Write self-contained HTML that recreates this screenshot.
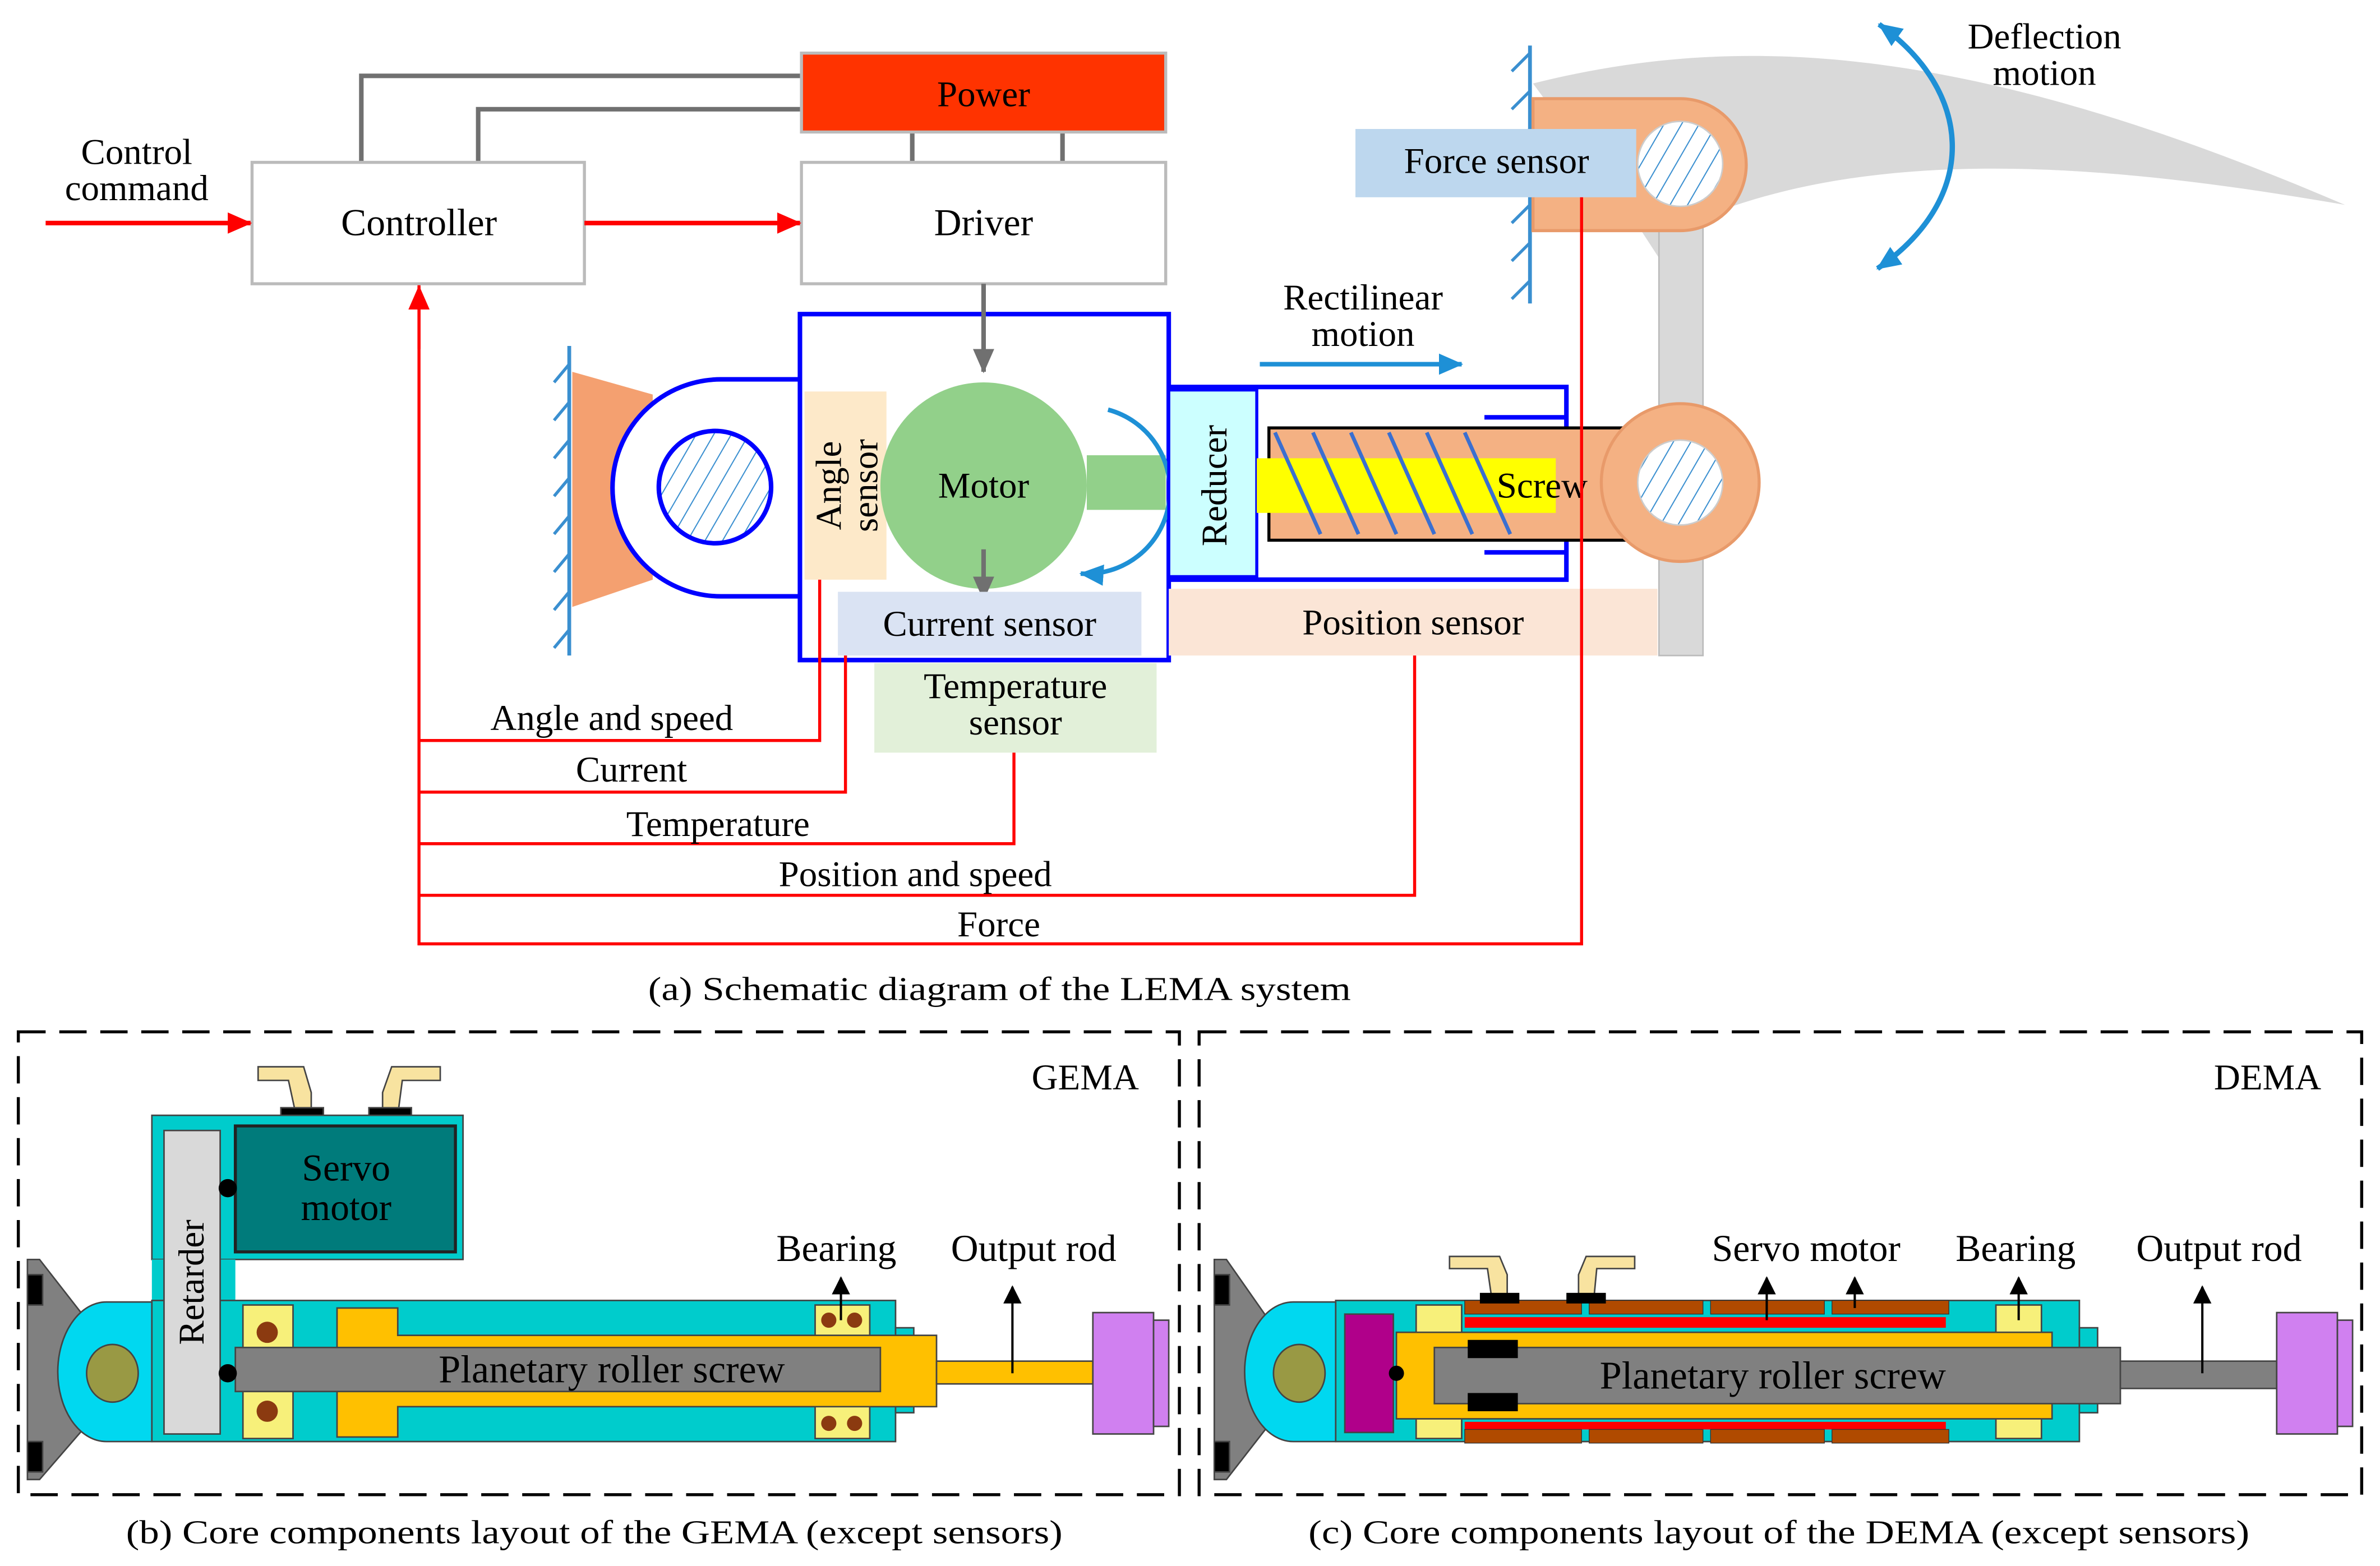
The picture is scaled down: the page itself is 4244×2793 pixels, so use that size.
<!DOCTYPE html>
<html><head><meta charset="utf-8"><style>html,body{margin:0;padding:0;background:#fff}svg{display:block}</style></head><body>
<svg width="4244" height="2793" viewBox="0 0 1568 1032" xmlns="http://www.w3.org/2000/svg" font-family="'Liberation Serif', serif">
<defs>
<marker id="arr" markerWidth="16" markerHeight="14" refX="15" refY="7" orient="auto" markerUnits="userSpaceOnUse"><path d="M0,0 L16,7 L0,14 z" fill="#ff0000"/></marker>
<marker id="ag" markerWidth="16" markerHeight="14" refX="15" refY="7" orient="auto" markerUnits="userSpaceOnUse"><path d="M0,0 L16,7 L0,14 z" fill="#707070"/></marker>
<marker id="ab" markerWidth="16" markerHeight="14" refX="15" refY="7" orient="auto" markerUnits="userSpaceOnUse"><path d="M0,0 L16,7 L0,14 z" fill="#1e90d6"/></marker>
<marker id="abs" markerWidth="16" markerHeight="14" refX="1" refY="7" orient="auto" markerUnits="userSpaceOnUse"><path d="M16,0 L0,7 L16,14 z" fill="#1e90d6"/></marker>
<marker id="ak" markerWidth="12" markerHeight="22" refX="11" refY="6" orient="auto" markerUnits="userSpaceOnUse"><path d="M0,0 L12,6 L0,12 z" fill="#000"/></marker>
<pattern id="hatch" width="10" height="10" patternUnits="userSpaceOnUse" patternTransform="rotate(30)"><line x1="0" y1="0" x2="0" y2="10" stroke="#3a8fd0" stroke-width="1.5"/></pattern>
</defs>

<path d="M1010,55 C1150,20 1300,30 1545,135 C1400,110 1250,95 1130,140 L1122,140 L1122,432 L1093,432 L1093,170 L1080,150 Z" fill="#d9d9d9"/>
<rect x="1093" y="140" width="29" height="292" fill="#d9d9d9" stroke="#bbb"/>

<polyline points="238,107 238,50 528,50" fill="none" stroke="#707070" stroke-width="3"/>
<polyline points="315,107 315,72 528,72" fill="none" stroke="#707070" stroke-width="3"/>
<line x1="601" y1="87" x2="601" y2="107" stroke="#707070" stroke-width="3"/>
<line x1="700" y1="87" x2="700" y2="107" stroke="#707070" stroke-width="3"/>

<rect x="528" y="35" width="240" height="52" fill="#ff3300" stroke="#bbb" stroke-width="2"/>
<text x="648" y="70" font-size="24" text-anchor="middle">Power</text>
<rect x="166" y="107" width="219" height="80" fill="#fff" stroke="#bbb" stroke-width="2"/>
<text x="276" y="155" font-size="25" text-anchor="middle">Controller</text>
<rect x="528" y="107" width="240" height="80" fill="#fff" stroke="#bbb" stroke-width="2"/>
<text x="648" y="155" font-size="25" text-anchor="middle">Driver</text>

<text x="90" y="108" font-size="24" text-anchor="middle">Control</text>
<text x="90" y="132" font-size="24" text-anchor="middle">command</text>
<line x1="30" y1="147" x2="165" y2="147" stroke="#ff0000" stroke-width="3" marker-end="url(#arr)"/>
<line x1="385" y1="147" x2="527" y2="147" stroke="#ff0000" stroke-width="3" marker-end="url(#arr)"/>

<line x1="375" y1="228" x2="375" y2="432" stroke="#3a8fd0" stroke-width="2.5"/>
<g stroke="#3a8fd0" stroke-width="2">
<line x1="375" y1="240" x2="365" y2="252"/><line x1="375" y1="265" x2="365" y2="277"/><line x1="375" y1="290" x2="365" y2="302"/><line x1="375" y1="315" x2="365" y2="327"/><line x1="375" y1="340" x2="365" y2="352"/><line x1="375" y1="365" x2="365" y2="377"/><line x1="375" y1="390" x2="365" y2="402"/><line x1="375" y1="415" x2="365" y2="427"/></g>
<path d="M377,245 L430,260 L430,382 L377,400 Z" fill="#f4a070"/>
<path d="M527,250 L475,250 A71,71 0 0 0 475,393 L527,393" fill="#fff" stroke="#0000ff" stroke-width="3"/>
<circle cx="471" cy="321" r="37" fill="url(#hatch)" stroke="#0000ff" stroke-width="3"/>

<rect x="527" y="207" width="243" height="228" fill="#fff" stroke="#0000ff" stroke-width="3"/>
<rect x="530" y="258" width="54" height="124" fill="#fde9c9"/>
<text transform="translate(558,320) rotate(-90)" font-size="24" text-anchor="middle"><tspan x="0" y="-4">Angle</tspan><tspan x="0" y="20">sensor</tspan></text>
<rect x="716" y="300" width="52" height="36" fill="#92d08a"/>
<circle cx="648" cy="320" r="68" fill="#92d08a"/>
<text x="648" y="328" font-size="24" text-anchor="middle">Motor</text>
<path d="M730,270 A55,55 0 0 1 712,378" fill="none" stroke="#1e90d6" stroke-width="3" marker-end="url(#ab)"/>
<line x1="648" y1="187" x2="648" y2="245" stroke="#707070" stroke-width="3" marker-end="url(#ag)"/>
<line x1="648" y1="362" x2="648" y2="395" stroke="#707070" stroke-width="3" marker-end="url(#ag)"/>
<rect x="552" y="390" width="200" height="42" fill="#dae3f3"/>
<text x="652" y="419" font-size="24" text-anchor="middle">Current sensor</text>
<rect x="576" y="437" width="186" height="59" fill="#e2f0d9"/>
<text x="669" y="460" font-size="24" text-anchor="middle">Temperature</text>
<text x="669" y="484" font-size="24" text-anchor="middle">sensor</text>

<polyline points="770,255 1032,255 1032,382 770,382" fill="none" stroke="#0000ff" stroke-width="3"/>
<line x1="978" y1="275" x2="1032" y2="275" stroke="#0000ff" stroke-width="3"/>
<line x1="978" y1="364" x2="1032" y2="364" stroke="#0000ff" stroke-width="3"/>
<rect x="770" y="257" width="58" height="123" fill="#ccffff" stroke="#0000ff" stroke-width="2"/>
<text transform="translate(800,320) rotate(-90)" font-size="24" text-anchor="middle" y="8">Reducer</text>
<rect x="836" y="282" width="239" height="74" fill="#f4b183" stroke="#000" stroke-width="2"/>
<rect x="828" y="302" width="197" height="36" fill="#ffff00"/>
<g stroke="#3a6fd0" stroke-width="2.5">
<line x1="840" y1="285" x2="870" y2="352"/><line x1="865" y1="285" x2="895" y2="352"/><line x1="890" y1="285" x2="920" y2="352"/><line x1="915" y1="285" x2="945" y2="352"/><line x1="940" y1="285" x2="970" y2="352"/><line x1="965" y1="285" x2="995" y2="352"/></g>
<text x="1016" y="328" font-size="24" text-anchor="middle">Screw</text>
<rect x="770" y="388" width="322" height="44" fill="#fbe5d6"/>
<text x="931" y="418" font-size="24" text-anchor="middle">Position sensor</text>
<circle cx="1107" cy="318" r="52" fill="#f4b183" stroke="#e89a6a" stroke-width="2"/>
<circle cx="1107" cy="318" r="28" fill="#fff"/><circle cx="1107" cy="318" r="28" fill="url(#hatch)" stroke="#ccc"/>

<text x="898" y="204" font-size="24" text-anchor="middle">Rectilinear</text>
<text x="898" y="228" font-size="24" text-anchor="middle">motion</text>
<line x1="830" y1="240" x2="963" y2="240" stroke="#1e90d6" stroke-width="3" marker-end="url(#ab)"/>

<line x1="1008" y1="30" x2="1008" y2="200" stroke="#3a8fd0" stroke-width="2.5"/>
<g stroke="#3a8fd0" stroke-width="2">
<line x1="1008" y1="35" x2="996" y2="47"/><line x1="1008" y1="60" x2="996" y2="72"/><line x1="1008" y1="85" x2="996" y2="97"/><line x1="1008" y1="110" x2="996" y2="122"/><line x1="1008" y1="135" x2="996" y2="147"/><line x1="1008" y1="160" x2="996" y2="172"/><line x1="1008" y1="185" x2="996" y2="197"/></g>
<path d="M1010,65 L1107,65 A43,43 0 0 1 1107,152 L1010,152 Z" fill="#f4b183" stroke="#e89a6a" stroke-width="2"/>
<rect x="893" y="85" width="185" height="45" fill="#bdd7ee"/>
<text x="986" y="114" font-size="24" text-anchor="middle">Force sensor</text>
<circle cx="1107" cy="108" r="28" fill="#fff"/><circle cx="1107" cy="108" r="28" fill="url(#hatch)" stroke="#ccc"/>
<path d="M1238,16 C1300,60 1305,130 1237,177" fill="none" stroke="#1e90d6" stroke-width="3.5" marker-start="url(#abs)" marker-end="url(#ab)"/>
<text x="1347" y="32" font-size="24" text-anchor="middle">Deflection</text>
<text x="1347" y="56" font-size="24" text-anchor="middle">motion</text>

<g fill="none" stroke="#ff0000" stroke-width="2">
<polyline points="540,382 540,488 276,488"/>
<polyline points="557,432 557,522 276,522"/>
<polyline points="668,496 668,556 276,556"/>
<polyline points="932,432 932,590 276,590"/>
<polyline points="1042,130 1042,622 276,622 276,188"/>
</g>
<line x1="276" y1="230" x2="276" y2="189" stroke="#ff0000" stroke-width="2" marker-end="url(#arr)"/>
<g font-size="24" text-anchor="middle">
<text x="403" y="481">Angle and speed</text>
<text x="416" y="515">Current</text>
<text x="473" y="551">Temperature</text>
<text x="603" y="584">Position and speed</text>
<text x="658" y="617">Force</text>
</g>
<text x="427" y="659" font-size="22" textLength="463" lengthAdjust="spacingAndGlyphs">(a)  Schematic diagram of the LEMA system</text>

<rect x="12" y="680" width="765" height="305" fill="none" stroke="#000" stroke-width="2" stroke-dasharray="18,9"/>
<rect x="790" y="680" width="766" height="305" fill="none" stroke="#000" stroke-width="2" stroke-dasharray="18,9"/>
<text x="715" y="718" font-size="24" text-anchor="middle">GEMA</text>
<text x="1494" y="718" font-size="24" text-anchor="middle">DEMA</text>

<g stroke="#444" stroke-width="1">
<path d="M18,830 L26,830 L65,880 L65,930 L26,975 L18,975 Z" fill="#808080"/>
<rect x="18" y="840" width="10" height="20" fill="#000"/><rect x="18" y="950" width="10" height="20" fill="#000"/>
<path d="M100,858 L70,858 A32,46 0 0 0 70,950 L100,950 Z" fill="#00d8f0"/>
<ellipse cx="74" cy="905" rx="17" ry="19" fill="#999944"/>
<path d="M170,703 L200,703 L205,720 L205,735 L195,735 L190,712 L170,712Z" fill="#f8e3a0"/>
<path d="M290,703 L258,703 L252,720 L252,735 L262,735 L265,712 L290,712Z" fill="#f8e3a0"/>
<rect x="185" y="730" width="28" height="7" fill="#000"/><rect x="243" y="730" width="28" height="7" fill="#000"/>
<rect x="100" y="735" width="205" height="95" fill="#00cccc"/>
<rect x="100" y="830" width="55" height="30" fill="#00cccc" stroke="none"/>
<rect x="155" y="742" width="145" height="83" fill="#007b7b" stroke="#222" stroke-width="2"/>
<rect x="100" y="857" width="490" height="93" fill="#00cccc"/>
<rect x="590" y="875" width="12" height="56" fill="#00cccc"/>
<rect x="108" y="745" width="37" height="200" fill="#d9d9d9"/>
<rect x="160" y="860" width="33" height="88" fill="#f7f07a"/>
<rect x="537" y="860" width="36" height="88" fill="#f7f07a"/>
<path d="M222,862 L262,862 L262,880 L617,880 L617,927 L262,927 L262,947 L222,947 Z" fill="#ffc000"/>
<rect x="155" y="888" width="425" height="29" fill="#808080"/>
<rect x="617" y="897" width="103" height="15" fill="#ffc000"/>
<rect x="720" y="865" width="40" height="80" fill="#d080f0"/>
<rect x="760" y="870" width="10" height="70" fill="#d080f0"/>
</g>
<g fill="#8b3a10"><circle cx="176" cy="878" r="7"/><circle cx="176" cy="930" r="7"/><circle cx="546" cy="870" r="5"/><circle cx="563" cy="870" r="5"/><circle cx="546" cy="938" r="5"/><circle cx="563" cy="938" r="5"/></g>
<circle cx="150" cy="783" r="6" fill="#000"/><circle cx="150" cy="905" r="6" fill="#000"/>
<text x="228" y="778" font-size="25" text-anchor="middle">Servo</text>
<text x="228" y="804" font-size="25" text-anchor="middle">motor</text>
<text transform="translate(126,845) rotate(-90)" font-size="24" text-anchor="middle" y="8">Retarder</text>
<text x="403" y="911" font-size="26" text-anchor="middle">Planetary roller screw</text>
<text x="551" y="831" font-size="25" text-anchor="middle">Bearing</text>
<text x="681" y="831" font-size="25" text-anchor="middle">Output rod</text>
<line x1="554" y1="870" x2="554" y2="842" stroke="#000" stroke-width="1.5" marker-end="url(#ak)"/>
<line x1="667" y1="905" x2="667" y2="848" stroke="#000" stroke-width="1.5" marker-end="url(#ak)"/>

<g stroke="#444" stroke-width="1">
<path d="M800,830 L808,830 L843,880 L843,930 L808,975 L800,975 Z" fill="#808080"/>
<rect x="800" y="840" width="10" height="20" fill="#000"/><rect x="800" y="950" width="10" height="20" fill="#000"/>
<path d="M880,858 L852,858 A32,46 0 0 0 852,950 L880,950 Z" fill="#00d8f0"/>
<ellipse cx="856" cy="905" rx="17" ry="19" fill="#999944"/>
<path d="M955,828 L988,828 L993,840 L993,857 L983,857 L980,836 L955,836Z" fill="#f8e3a0"/>
<path d="M1077,828 L1045,828 L1040,840 L1040,857 L1050,857 L1052,836 L1077,836Z" fill="#f8e3a0"/>
<rect x="880" y="857" width="490" height="93" fill="#00cccc"/>
<rect x="1370" y="875" width="12" height="56" fill="#00cccc"/>
<rect x="886" y="866" width="32" height="78" fill="#b0008a"/>
<rect x="933" y="860" width="30" height="88" fill="#f7f07a"/>
<rect x="1315" y="860" width="30" height="88" fill="#f7f07a"/>
<rect x="920" y="878" width="432" height="57" fill="#ffc000"/>
<rect x="965" y="868" width="317" height="7" fill="#ff0000" stroke="none"/>
<rect x="965" y="937" width="317" height="5" fill="#ff0000" stroke="none"/>
<rect x="945" y="888" width="452" height="37" fill="#808080"/>
<rect x="1397" y="897" width="103" height="18" fill="#808080"/>
<rect x="1500" y="865" width="40" height="80" fill="#d080f0"/>
<rect x="1540" y="870" width="10" height="70" fill="#d080f0"/>
</g>
<g fill="#b04a00" stroke="#333" stroke-width="0.5">
<rect x="965" y="857" width="77" height="9"/><rect x="1047" y="857" width="75" height="9"/><rect x="1127" y="857" width="75" height="9"/><rect x="1207" y="857" width="77" height="9"/>
<rect x="965" y="942" width="77" height="9"/><rect x="1047" y="942" width="75" height="9"/><rect x="1127" y="942" width="75" height="9"/><rect x="1207" y="942" width="77" height="9"/>
</g>
<rect x="967" y="883" width="33" height="12" fill="#000"/><rect x="967" y="918" width="33" height="12" fill="#000"/>
<rect x="975" y="852" width="26" height="7" fill="#000"/><rect x="1032" y="852" width="26" height="7" fill="#000"/>
<circle cx="920" cy="905" r="5" fill="#000"/>
<text x="1168" y="915" font-size="26" text-anchor="middle">Planetary roller screw</text>
<text x="1190" y="831" font-size="25" text-anchor="middle">Servo motor</text>
<text x="1328" y="831" font-size="25" text-anchor="middle">Bearing</text>
<text x="1462" y="831" font-size="25" text-anchor="middle">Output rod</text>
<line x1="1164" y1="870" x2="1164" y2="842" stroke="#000" stroke-width="1.5" marker-end="url(#ak)"/>
<line x1="1222" y1="862" x2="1222" y2="842" stroke="#000" stroke-width="1.5" marker-end="url(#ak)"/>
<line x1="1330" y1="870" x2="1330" y2="842" stroke="#000" stroke-width="1.5" marker-end="url(#ak)"/>
<line x1="1451" y1="905" x2="1451" y2="848" stroke="#000" stroke-width="1.5" marker-end="url(#ak)"/>

<text x="83" y="1017" font-size="22" textLength="617" lengthAdjust="spacingAndGlyphs">(b)  Core components layout of the GEMA (except sensors)</text>
<text x="862" y="1017" font-size="22" textLength="620" lengthAdjust="spacingAndGlyphs">(c)  Core components layout of the DEMA (except sensors)</text>
</svg>
</body></html>
